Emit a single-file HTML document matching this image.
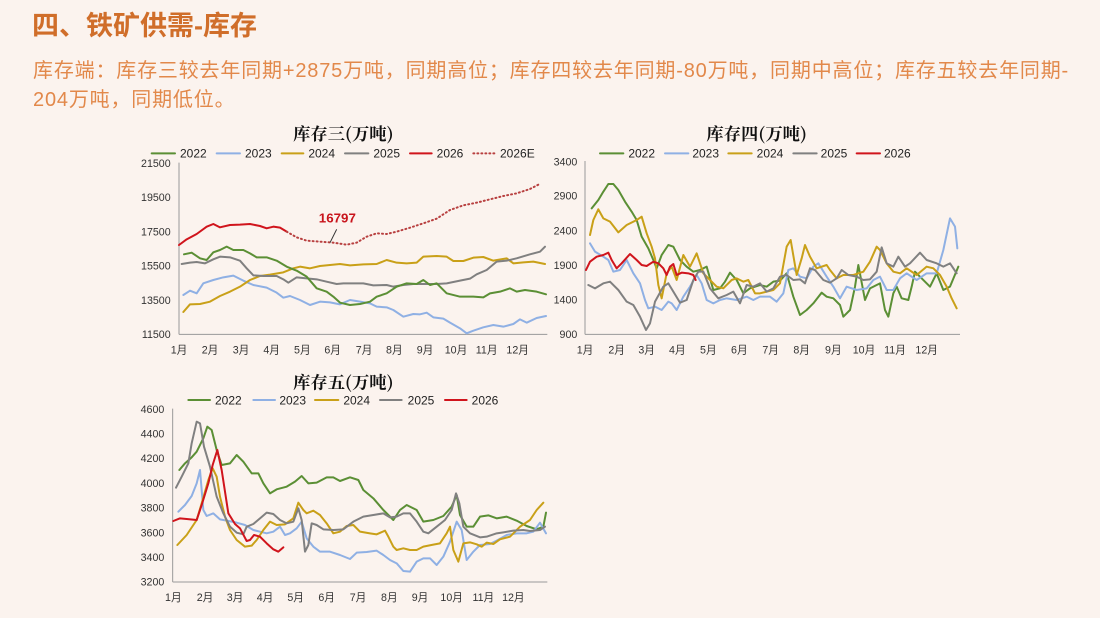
<!DOCTYPE html>
<html><head><meta charset="utf-8"><style>
html,body{margin:0;padding:0;background:#FBF3EE;}
body{width:1100px;height:618px;position:relative;overflow:hidden;font-family:"Liberation Sans","Noto Sans CJK SC",sans-serif;}
.t{position:absolute;left:32px;top:8px;font-size:27px;font-weight:bold;color:#D06E2A;line-height:36px;}
.s{position:absolute;left:33px;top:57px;font-size:20px;color:#E2884A;line-height:29px;letter-spacing:0.82px;white-space:nowrap;}
svg{position:absolute;}
svg text{font-family:"Liberation Sans","Noto Sans CJK SC",sans-serif;}
.ti{font-family:"Noto Serif CJK SC",serif !important;font-weight:bold;font-size:52px;fill:#111;}
.lg{font-size:36px;fill:#222;}
.ax{font-size:32px;fill:#333;}
.l{fill:none;stroke-width:6;stroke-linejoin:round;stroke-linecap:round;}
.g{stroke:#5B8F35}.b{stroke:#8FB0E4}.y{stroke:#C9A018}.k{stroke:#808080}.r{stroke:#D0141C}
</style></head><body>
<div class="t">四、铁矿供需-库存</div>
<div class="s">库存端：库存三较去年同期+2875万吨，同期高位；库存四较去年同期-80万吨，同期中高位；库存五较去年同期-<br>204万吨，同期低位。</div>

<!-- Chart 1 -->
<svg style="left:130px;top:120px" width="420" height="240" viewBox="0 0 1260 720">
<text class="ti" x="640" y="60" text-anchor="middle">库存三(万吨)</text>
<g class="lg">
<line x1="65" y1="100" x2="135" y2="100" class="l g"/><text x="150" y="113">2022</text>
<line x1="260" y1="100" x2="330" y2="100" class="l b"/><text x="345" y="113">2023</text>
<line x1="455" y1="100" x2="520" y2="100" class="l y"/><text x="535" y="113">2024</text>
<line x1="645" y1="100" x2="715" y2="100" class="l k"/><text x="730" y="113">2025</text>
<line x1="840" y1="100" x2="905" y2="100" class="l r"/><text x="920" y="113">2026</text>
<line x1="1030" y1="100" x2="1095" y2="100" class="l r" stroke-dasharray="3 9" stroke-linecap="butt" style="stroke:#B84040"/><text x="1110" y="113">2026E</text>
</g>
<line x1="147" y1="128" x2="147" y2="643" stroke="#999" stroke-width="3"/>
<line x1="147" y1="643" x2="1252" y2="643" stroke="#999" stroke-width="3"/>
<g class="ax" text-anchor="end">
<text x="122" y="141">21500</text><text x="122" y="243">19500</text><text x="122" y="347">17500</text><text x="122" y="449">15500</text><text x="122" y="552">13500</text><text x="122" y="654">11500</text>
</g>
<g class="ax" text-anchor="middle">
<text x="147" y="701">1月</text><text x="240" y="701">2月</text><text x="333" y="701">3月</text><text x="425" y="701">4月</text><text x="517" y="701">5月</text><text x="608" y="701">6月</text><text x="702" y="701">7月</text><text x="793" y="701">8月</text><text x="885" y="701">9月</text><text x="978" y="701">10月</text><text x="1070" y="701">11月</text><text x="1163" y="701">12月</text>
</g>
<polyline class="l b" points="160,525 180,512 200,520 220,490 250,480 280,472 310,467 340,482 370,495 410,503 440,518 460,533 480,528 510,540 540,555 570,545 600,547 630,553 660,540 690,545 720,550 740,560 770,562 790,570 820,590 850,582 870,583 890,578 910,592 940,596 960,608 990,625 1010,640 1030,632 1060,622 1090,615 1120,620 1150,612 1170,598 1190,608 1220,594 1248,588"/>
<polyline class="l y" points="160,576 180,553 210,552 240,545 270,528 300,515 330,500 360,480 390,468 420,464 460,457 490,445 510,440 540,445 570,438 600,435 630,432 660,436 700,433 740,432 770,420 800,428 830,430 860,428 880,410 920,408 950,410 970,423 1000,423 1030,413 1060,411 1090,422 1130,415 1150,430 1180,427 1210,425 1245,432"/>
<polyline class="l k" points="155,432 180,428 200,426 225,430 250,418 270,410 300,412 330,422 350,445 370,466 400,468 440,468 460,478 475,488 500,472 530,475 560,478 590,485 620,492 640,490 670,490 700,490 730,496 770,495 790,500 820,495 850,492 880,492 920,492 950,490 990,482 1020,476 1040,463 1070,450 1100,425 1130,422 1160,415 1200,403 1230,395 1245,380"/>
<polyline class="l g" points="162,403 185,398 210,415 230,420 250,397 270,390 290,380 310,390 340,390 360,400 380,412 410,412 440,422 470,440 500,452 530,470 560,505 590,515 610,530 630,548 660,555 690,552 720,545 740,530 770,520 800,500 830,490 860,492 880,480 900,495 920,490 950,520 990,530 1030,530 1060,532 1080,520 1110,515 1140,505 1160,515 1185,510 1220,515 1248,523"/>
<polyline class="l r" points="147,375 170,358 200,342 230,320 250,312 270,322 300,315 330,314 360,312 390,318 410,325 430,320 450,323 470,335"/>
<polyline class="l" style="stroke:#B84040" stroke-dasharray="3 9" stroke-linecap="butt" points="470,335 500,352 530,362 570,365 610,368 650,374 680,368 710,350 740,340 770,342 800,335 840,323 880,310 920,296 960,270 1000,256 1040,248 1080,238 1120,228 1160,220 1200,207 1225,194"/>
<line x1="600" y1="368" x2="620" y2="328" stroke="#333" stroke-width="3"/>
<text x="622" y="307" text-anchor="middle" font-size="40" font-weight="bold" fill="#C8141C">16797</text>
</svg>

<!-- Chart 2 -->
<svg style="left:540px;top:120px" width="430" height="240" viewBox="0 0 1290 720">
<text class="ti" x="650" y="60" text-anchor="middle">库存四(万吨)</text>
<g class="lg">
<line x1="180" y1="100" x2="250" y2="100" class="l g"/><text x="265" y="113">2022</text>
<line x1="375" y1="100" x2="445" y2="100" class="l b"/><text x="457" y="113">2023</text>
<line x1="565" y1="100" x2="635" y2="100" class="l y"/><text x="650" y="113">2024</text>
<line x1="760" y1="100" x2="830" y2="100" class="l k"/><text x="842" y="113">2025</text>
<line x1="950" y1="100" x2="1020" y2="100" class="l r"/><text x="1032" y="113">2026</text>
</g>
<line x1="135" y1="123" x2="135" y2="643" stroke="#999" stroke-width="3"/>
<line x1="135" y1="643" x2="1260" y2="643" stroke="#999" stroke-width="3"/>
<g class="ax" text-anchor="end">
<text x="112" y="136">3400</text><text x="112" y="239">2900</text><text x="112" y="343">2400</text><text x="112" y="447">1900</text><text x="112" y="551">1400</text><text x="112" y="654">900</text>
</g>
<g class="ax" text-anchor="middle">
<text x="135" y="701">1月</text><text x="230" y="701">2月</text><text x="320" y="701">3月</text><text x="412" y="701">4月</text><text x="505" y="701">5月</text><text x="598" y="701">6月</text><text x="692" y="701">7月</text><text x="785" y="701">8月</text><text x="880" y="701">9月</text><text x="972" y="701">10月</text><text x="1065" y="701">11月</text><text x="1160" y="701">12月</text>
</g>
<polyline class="l g" points="155,265 175,240 190,215 205,192 220,192 235,210 255,245 275,275 290,300 305,350 325,385 340,420 350,445 365,405 385,375 400,380 420,420 440,440 460,455 480,450 500,440 520,510 540,505 555,485 570,458 590,480 610,520 630,505 660,495 680,500 700,485 720,482 740,460 760,530 780,585 800,570 820,550 845,518 860,530 880,535 900,555 910,590 930,570 945,500 955,435 975,540 990,505 1010,495 1020,490 1035,570 1045,590 1060,520 1070,500 1085,535 1105,540 1115,500 1125,455 1140,470 1170,500 1190,460 1210,510 1230,500 1255,440"/>
<polyline class="l b" points="150,370 165,395 190,410 205,420 220,455 240,450 260,420 280,460 300,490 315,540 325,565 345,560 365,570 385,545 395,550 410,570 430,530 450,500 470,465 485,490 500,540 520,550 540,540 560,535 590,540 620,530 640,540 660,530 690,530 710,545 730,520 745,450 760,445 780,470 800,475 820,440 835,430 860,470 880,500 900,535 920,500 950,510 980,505 1000,480 1020,470 1040,510 1060,510 1080,475 1100,460 1130,480 1160,460 1190,460 1210,390 1230,295 1245,320 1252,385"/>
<polyline class="l y" points="150,345 160,300 175,268 190,295 210,305 235,337 260,315 290,300 305,290 320,340 335,380 345,415 355,495 365,535 380,460 395,440 410,480 430,405 450,440 470,400 490,460 510,480 530,500 550,505 575,480 590,475 610,485 625,480 645,520 660,520 680,515 700,510 720,490 740,380 752,360 770,465 785,415 795,375 810,410 830,445 860,435 870,450 890,475 910,465 940,465 970,455 990,425 1010,380 1020,390 1040,430 1060,455 1080,460 1100,445 1130,465 1160,440 1180,445 1200,465 1220,500 1235,535 1250,565"/>
<polyline class="l k" points="145,495 165,505 190,490 210,485 235,510 260,545 280,555 300,590 318,630 330,610 345,545 370,500 385,490 400,515 420,548 440,540 460,480 475,455 490,455 510,505 535,535 560,525 580,515 600,550 620,495 640,500 660,490 680,515 700,505 720,470 740,465 760,480 780,478 795,490 810,445 825,450 850,480 870,488 890,475 905,450 925,465 950,470 970,480 990,478 1010,455 1025,382 1040,430 1060,440 1075,410 1095,440 1110,430 1140,398 1160,420 1190,430 1210,440 1230,430 1250,460"/>
<polyline class="l r" points="138,450 150,425 170,410 190,405 205,398 215,420 230,445 245,430 270,402 290,420 305,435 320,438 340,425 355,430 370,445 380,465 390,440 400,432 410,465 425,458 445,460 460,465 467,480"/>
</svg>

<!-- Chart 3 -->
<svg style="left:130px;top:370px" width="430" height="240" viewBox="0 0 1290 720">
<text class="ti" x="640" y="55" text-anchor="middle">库存五(万吨)</text>
<g class="lg">
<line x1="175" y1="90" x2="240" y2="90" class="l g"/><text x="255" y="103">2022</text>
<line x1="370" y1="90" x2="435" y2="90" class="l b"/><text x="448" y="103">2023</text>
<line x1="555" y1="90" x2="625" y2="90" class="l y"/><text x="640" y="103">2024</text>
<line x1="750" y1="90" x2="815" y2="90" class="l k"/><text x="833" y="103">2025</text>
<line x1="945" y1="90" x2="1010" y2="90" class="l r"/><text x="1025" y="103">2026</text>
</g>
<line x1="128" y1="116" x2="128" y2="636" stroke="#999" stroke-width="3"/>
<line x1="128" y1="636" x2="1252" y2="636" stroke="#999" stroke-width="3"/>
<g class="ax" text-anchor="end">
<text x="103" y="129">4600</text><text x="103" y="202">4400</text><text x="103" y="276">4200</text><text x="103" y="351">4000</text><text x="103" y="424">3800</text><text x="103" y="499">3600</text><text x="103" y="573">3400</text><text x="103" y="647">3200</text>
</g>
<g class="ax" text-anchor="middle">
<text x="130" y="693">1月</text><text x="225" y="693">2月</text><text x="315" y="693">3月</text><text x="405" y="693">4月</text><text x="497" y="693">5月</text><text x="590" y="693">6月</text><text x="684" y="693">7月</text><text x="778" y="693">8月</text><text x="870" y="693">9月</text><text x="965" y="693">10月</text><text x="1060" y="693">11月</text><text x="1150" y="693">12月</text>
</g>
<polyline class="l g" points="148,300 165,280 185,262 200,245 220,205 232,170 245,180 260,240 275,285 300,280 320,255 340,275 365,310 385,310 400,340 420,370 440,358 470,350 495,335 515,318 535,340 560,338 590,322 610,322 630,333 660,322 685,330 700,360 730,385 760,420 790,450 810,420 830,405 860,420 880,455 910,450 940,438 965,410 980,375 990,435 1010,470 1030,470 1050,440 1075,436 1100,445 1130,440 1160,452 1190,468 1220,478 1240,470 1248,428"/>
<polyline class="l b" points="145,425 165,405 185,378 200,340 210,300 220,420 230,438 250,430 270,448 290,452 320,458 345,465 370,480 390,485 410,490 430,485 450,470 465,495 480,490 500,475 515,455 530,505 550,530 570,545 600,545 630,555 660,567 680,548 710,546 740,542 760,555 780,570 800,580 820,603 840,605 860,575 880,565 900,565 920,585 940,560 960,515 980,455 995,480 1010,570 1030,545 1050,525 1080,522 1100,512 1130,495 1160,490 1190,490 1210,485 1230,458 1248,490"/>
<polyline class="l y" points="142,525 170,495 200,450 215,400 235,330 248,295 260,320 270,380 285,440 300,480 320,510 345,530 365,527 380,510 400,480 420,455 440,465 465,463 490,445 505,398 520,420 530,430 550,422 570,435 590,460 610,490 630,485 650,468 670,465 690,485 720,490 740,493 765,482 775,500 790,530 800,540 820,535 840,540 860,540 880,530 910,524 930,520 950,490 960,470 970,540 985,575 1000,520 1020,517 1040,523 1055,530 1070,518 1090,522 1110,508 1140,500 1170,470 1200,450 1220,420 1240,398"/>
<polyline class="l k" points="138,353 155,320 175,280 185,220 200,155 210,160 222,230 240,290 260,380 280,430 300,470 320,488 340,493 350,470 370,462 390,445 410,428 430,432 450,450 470,460 490,455 505,415 515,450 525,545 535,525 545,460 560,465 580,478 610,480 640,478 670,455 700,440 730,435 760,430 780,442 800,440 820,430 840,430 860,455 880,485 895,490 920,470 945,450 965,420 978,370 988,400 1000,470 1020,490 1050,502 1070,500 1100,490 1120,487 1150,482 1180,480 1200,483 1230,480 1245,470"/>
<polyline class="l r" points="130,453 150,445 170,447 200,450 215,405 235,340 248,285 262,240 275,300 295,430 315,462 330,475 350,513 360,510 372,495 390,500 410,520 430,538 445,545 460,532"/>
</svg>
</body></html>
